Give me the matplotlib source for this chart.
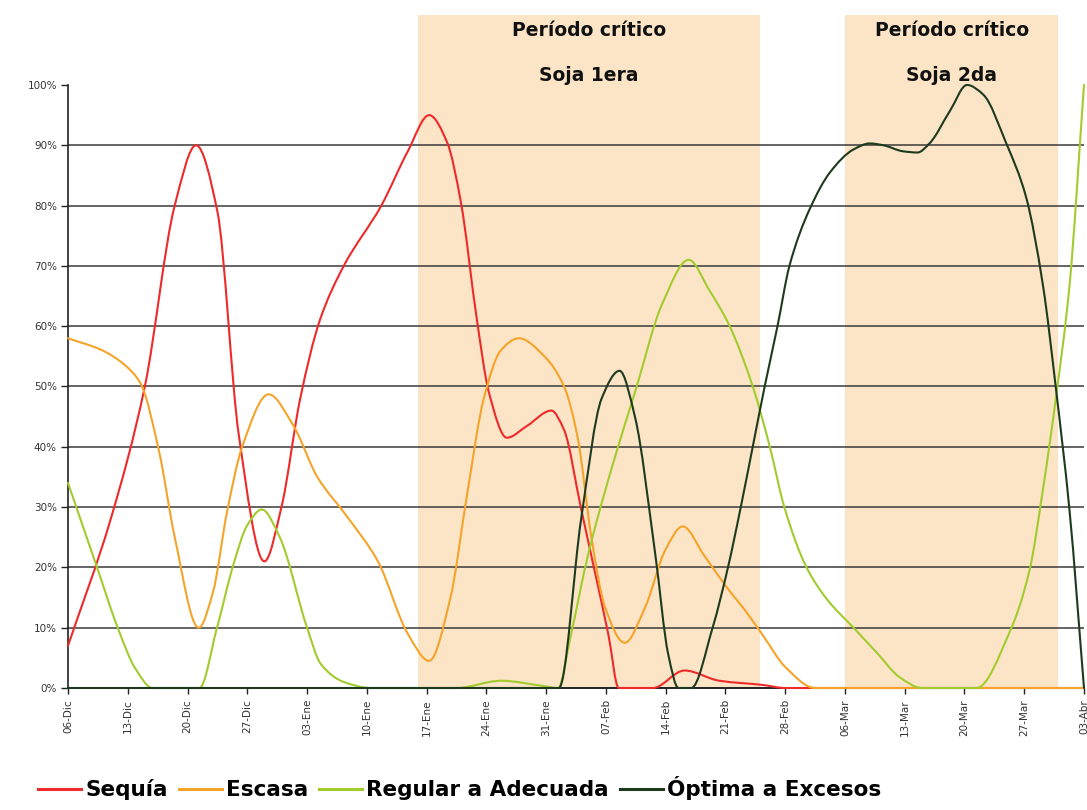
import datetime as dt
import numpy as np
import matplotlib
matplotlib.use("Agg")
import matplotlib.pyplot as plt
import matplotlib.dates as mdates
from matplotlib.path import Path
from matplotlib.patches import PathPatch
from matplotlib.lines import Line2D
from matplotlib.ticker import PercentFormatter, FixedLocator

# ---------------- data ----------------
inicio = dt.date(2007, 12, 6)

tick_labels = ["06-Dic", "13-Dic", "20-Dic", "27-Dic", "03-Ene", "10-Ene",
               "17-Ene", "24-Ene", "31-Ene", "07-Feb", "14-Feb", "21-Feb",
               "28-Feb", "06-Mar", "13-Mar", "20-Mar", "27-Mar", "03-Abr"]

periodo_inicio = ["2008-01-16", "2008-03-06"]
periodo_fin = ["2008-02-25", "2008-03-31"]
periodo_linea1 = ["Período crítico", "Período crítico"]
periodo_linea2 = ["Soja 1era", "Soja 2da"]

series_nombres = ["Sequía", "Escasa", "Regular a Adecuada", "Óptima a Excesos"]
series_colores = ["#EE2A2A", "#F5A42A", "#A2CC2E", "#1E3A1E"]

# days since 06-Dic-2007 and % values
sequia_dias = [0, 5, 9, 12.5, 15, 17.5, 20, 23, 25, 27.2, 29.5, 32.3, 36.7,
               39.8, 42.3, 44.4, 46, 47.9, 49.3, 51.4, 53.8, 56.6, 58.1, 60.1,
               61.7, 63.3, 64.5, 68.5, 72.2, 76.3, 81.4, 84, 119]
sequia_vals = [7, 28, 50, 80, 90, 79, 42, 21, 30, 48, 61, 70, 80,
               89, 95, 90.5, 80.7, 61, 49, 41.5, 43.5, 46, 42.8, 29.7,
               19.3, 8.8, 0, 0, 2.9, 1.2, 0.5, 0, 0]

escasa_dias = [0, 4, 6.7, 8.5, 10.7, 12.5, 15.3, 17, 18.6, 20.4, 23.5, 26.4,
               29.2, 32.7, 36.3, 39.8, 42.3, 44.8, 46.7, 48.7, 50.7, 52.8,
               55.8, 58.1, 59.7, 61.3, 62.9, 65.2, 67.6, 70, 72, 74.5, 77,
               79.5, 81.5, 84, 87.5, 119]
escasa_vals = [58, 56, 53.5, 50.5, 39, 25, 10, 16, 29, 40, 48.7, 43.5,
               35, 28.4, 21, 9, 4.5, 15, 31.7, 48, 56, 58,
               55, 50, 41.5, 25, 13.4, 7.5, 13.4, 23, 26.8, 22, 17,
               12.5, 8.5, 3.5, 0, 0]

regular_dias = [0, 3.4, 5.9, 7.9, 9.9, 15.4, 17.4, 19.4, 21, 22.7, 24.8, 28,
                29.6, 32.3, 35.5, 45.5, 50.7, 55.8, 57.4, 58.9, 60.9, 64,
                66.4, 69.6, 72.7, 75.1, 77.5, 80.2, 82.2, 83.9, 86.5, 88.9,
                92, 94.7, 97.4, 100, 106.4, 110.3, 112.6, 114.2, 115.7,
                117.3, 119]
regular_vals = [34, 20, 9.7, 3.2, 0, 0, 9.7, 20.6, 27, 29.6, 25, 10,
                4, 1, 0, 0, 1.2, 0.3, 0, 8.8, 22, 38,
                49, 63.7, 71, 66, 60, 50, 40, 30, 20, 14.7,
                10, 5.9, 1.8, 0, 0, 9.3, 19.4, 33, 48,
                66.7, 100]

optima_dias = [0, 57.5, 60.1, 62.5, 64.6, 66.4, 68.8, 70.3, 71.5, 73, 75.5,
               77.3, 78.8, 80.2, 81.6, 83.1, 84.5, 86.9, 89.3, 92, 93.9,
               95.5, 97.8, 99.5, 100.9, 103.3, 105.3, 107.2, 109.9, 112.2,
               114.2, 115.7, 117.3, 119]
optima_vals = [0, 0, 28, 48, 52.6, 45, 22, 5.6, 0, 0, 10,
               20, 30, 40, 50, 60, 70, 79.5, 85.6, 89.3, 90.3,
               90, 89, 88.8, 90.3, 95.7, 100, 98.4, 90.3, 81.5,
               66.7, 49.8, 29.5, 0]

# ---------------- helpers ----------------
base = mdates.date2num(inicio)


def smooth_path(dias, vals):
    """Monotone cubic (PCHIP-like) curve through the points, as Bezier path."""
    x = base + np.asarray(dias, float)
    y = np.asarray(vals, float)
    h = np.diff(x)
    d = np.diff(y) / h
    n = len(x)
    m = np.zeros(n)
    for k in range(1, n - 1):
        if d[k - 1] * d[k] > 0:
            w1 = 2 * h[k] + h[k - 1]
            w2 = h[k] + 2 * h[k - 1]
            m[k] = (w1 + w2) / (w1 / d[k - 1] + w2 / d[k])
    m[0] = d[0]
    m[-1] = d[-1]
    verts = [(x[0], y[0])]
    codes = [Path.MOVETO]
    for k in range(n - 1):
        verts += [(x[k] + h[k] / 3, y[k] + m[k] * h[k] / 3),
                  (x[k + 1] - h[k] / 3, y[k + 1] - m[k + 1] * h[k] / 3),
                  (x[k + 1], y[k + 1])]
        codes += [Path.CURVE4] * 3
    return Path(verts, codes)


# ---------------- figure ----------------
W, H = 1087, 810
fig = plt.figure(figsize=(W / 100, H / 100), dpi=100)
ax = fig.add_axes([68 / W, 1 - 688 / H, (1084 - 68) / W, (688 - 15) / H])

ax.set_xlim(base, base + 119)
ax.set_ylim(0, 111.6)

# critical periods
for a, b, t1, t2 in zip(periodo_inicio, periodo_fin, periodo_linea1, periodo_linea2):
    xa = mdates.datestr2num(a)
    xb = mdates.datestr2num(b)
    ax.axvspan(xa, xb, color="#FCE4C6", zorder=0, lw=0)
    xc = (xa + xb) / 2
    ax.text(xc, 109.0, t1, ha="center", va="center", fontsize=13.5,
            fontweight="bold", color="#111111", zorder=5)
    ax.text(xc, 101.6, t2, ha="center", va="center", fontsize=13.5,
            fontweight="bold", color="#111111", zorder=5)

# gridlines
for v in range(10, 100, 10):
    ax.axhline(v, color="#3a3a3a", lw=1.1, zorder=1)

# series
todas = [(sequia_dias, sequia_vals), (escasa_dias, escasa_vals),
         (regular_dias, regular_vals), (optima_dias, optima_vals)]
handles = []
for (d, v), col, nom in zip(todas, series_colores, series_nombres):
    patch = PathPatch(smooth_path(d, v), fill=False, edgecolor=col, lw=1.5,
                      zorder=3, clip_on=False, capstyle="round", joinstyle="round")
    ax.add_patch(patch)
    handles.append(Line2D([], [], color=col, lw=2.2, label=nom))

# axes styling
for s in ["top", "right"]:
    ax.spines[s].set_visible(False)
ax.spines["left"].set_bounds(0, 100)
ax.spines["left"].set_color("#222222")
ax.spines["bottom"].set_color("#222222")
ax.spines["left"].set_linewidth(1.2)
ax.spines["bottom"].set_linewidth(1.4)
ax.spines["bottom"].set_zorder(2)

ax.set_yticks(range(0, 101, 10))
ax.yaxis.set_major_formatter(PercentFormatter(xmax=100, decimals=0))
ax.tick_params(axis="y", length=5, width=1, color="#222222", labelsize=7.5,
               labelcolor="#333333", pad=3)

xt = [base + 7 * i for i in range(len(tick_labels))]
ax.xaxis.set_major_locator(FixedLocator(xt))
ax.set_xticklabels(tick_labels, rotation=90)
ax.tick_params(axis="x", length=4, width=1, color="#222222", labelsize=7.5,
               labelcolor="#333333", pad=4)

ax.patch.set_alpha(0)

fig.legend(handles=handles, loc="lower center", bbox_to_anchor=(0.423, -0.012),
           ncol=4, frameon=False, handlelength=2.0, handletextpad=0.2,
           columnspacing=0.5, prop={"weight": "bold", "size": 15.5})

fig.savefig("out.png", dpi=100)
